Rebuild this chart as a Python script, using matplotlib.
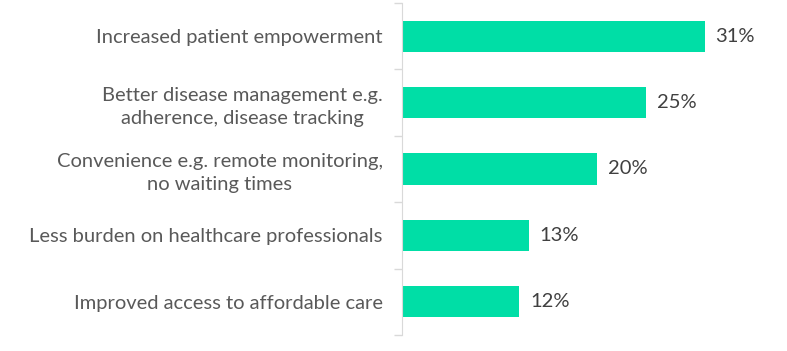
import numpy as np
import matplotlib.pyplot as plt

categorias = ['Increased patient empowerment',
              'Better disease management e.g.\nadherence, disease tracking',
              'Convenience e.g. remote monitoring,\nno waiting times',
              'Less burden on healthcare professionals',
              'Improved access to affordable care']
valores = [31, 25, 20, 13, 12]
etiquetas = ['31%', '25%', '20%', '13%', '12%']

plt.rcParams['font.family'] = ['Lato', 'DejaVu Sans']

fig = plt.figure(figsize=(7.87, 3.51), dpi=100)
ax = fig.add_axes([402 / 787, 1 - 335 / 351, 378 / 787, 332 / 351])

y = np.arange(len(categorias))
ax.barh(y, valores, height=0.47, color='#00DEA6')
for yi, v, t in zip(y, valores, etiquetas):
    ax.text(v + 1.1, yi, t, va='center', ha='left', fontsize=14.5, color='#404040')

ax.set_ylim(len(categorias) - 0.5, -0.5)
ax.set_xlim(0, 38.7)
ax.set_yticks(y)
ax.set_yticklabels(categorias, fontsize=14.5, color='#595959', ha='right',
                   linespacing=1.4)
ax.tick_params(axis='y', which='major', length=0, pad=14)
ax.set_yticks(np.arange(len(categorias) + 1) - 0.5, minor=True)
ax.tick_params(axis='y', which='minor', length=6, color='#D9D9D9', width=1)
for lbl in ax.get_yticklabels():
    lbl.set_multialignment('center')
ax.set_xticks([])
for s in ['top', 'right', 'bottom']:
    ax.spines[s].set_visible(False)
ax.spines['left'].set_color('#D9D9D9')

plt.savefig('out.png', dpi=100)
